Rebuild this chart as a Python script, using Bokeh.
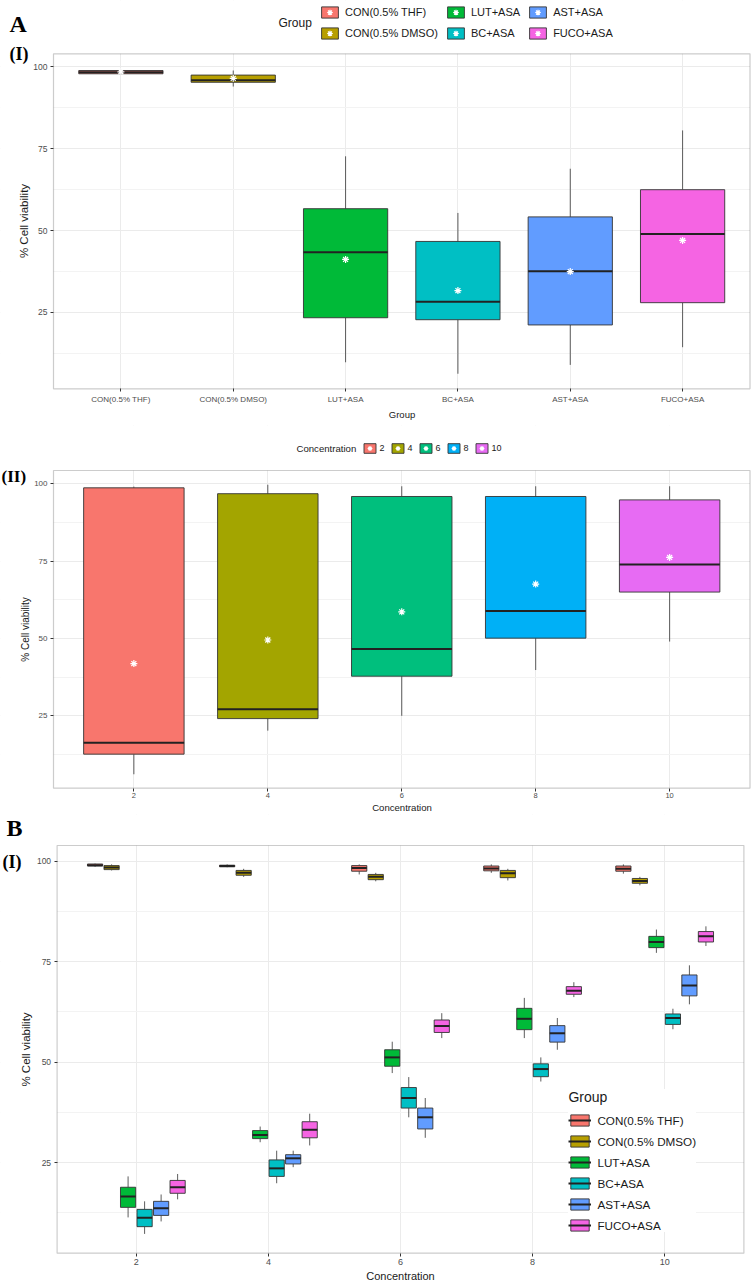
from bokeh.plotting import figure
from bokeh.layouts import column
from bokeh.models import (FixedTicker, Range1d, Legend, LegendItem, Label,
                          ColumnDataSource, BoxAnnotation)
from bokeh.embed import file_html
from bokeh.resources import INLINE

FONT = "Liberation Sans"
SERIF = "Liberation Serif"

# ---------------- Panel A(I): by group ----------------
groups = ["CON(0.5% THF)", "CON(0.5% DMSO)", "LUT+ASA", "BC+ASA", "AST+ASA", "FUCO+ASA"]
group_colors = ["#F8766D", "#B79F00", "#00BA38", "#00BFC4", "#619CFF", "#F564E3"]
a1_lower = [97.7, 94.0, 9.8, 6.3, 9.0, 14.4]
a1_q1 = [97.9, 95.3, 23.4, 22.8, 21.2, 28.0]
a1_med = [98.4, 95.9, 43.4, 28.3, 37.6, 49.0]
a1_q3 = [98.9, 97.5, 56.7, 46.7, 54.2, 62.5]
a1_upper = [99.1, 98.9, 72.7, 55.4, 68.9, 80.6]
a1_mean = [98.5, 96.5, 41.2, 31.7, 37.5, 47.0]

# ---------------- Panel A(II): by concentration ----------------
concentrations = [2, 4, 6, 8, 10]
conc_labels = ["2", "4", "6", "8", "10"]
conc_colors = ["#F8766D", "#A3A500", "#00BF7D", "#00B0F6", "#E76BF3"]
a2_lower = [6.1, 20.2, 25.0, 39.8, 49.0]
a2_q1 = [12.6, 24.1, 37.8, 50.1, 65.0]
a2_med = [16.3, 27.1, 46.6, 58.9, 73.9]
a2_q3 = [98.7, 96.8, 95.9, 95.9, 94.8]
a2_upper = [99.1, 99.7, 99.2, 99.2, 99.2]
a2_mean = [41.9, 49.5, 58.6, 67.6, 76.2]

# ---------------- Panel B(I): group x concentration ----------------
b_thf_lower = [98.6, 98.5, 96.7, 97.1, 96.9]
b_thf_q1 = [98.8, 98.6, 97.5, 97.6, 97.5]
b_thf_med = [99.0, 98.8, 98.3, 98.2, 98.1]
b_thf_q3 = [99.3, 99.0, 98.9, 98.8, 98.8]
b_thf_upper = [99.4, 99.2, 99.2, 99.2, 99.2]

b_dmso_lower = [97.7, 96.1, 95.0, 95.2, 94.0]
b_dmso_q1 = [97.9, 96.5, 95.4, 95.9, 94.5]
b_dmso_med = [98.4, 97.1, 96.1, 97.0, 95.1]
b_dmso_q3 = [98.9, 97.7, 96.7, 97.7, 95.7]
b_dmso_upper = [99.2, 98.1, 97.1, 98.1, 96.1]

b_lut_lower = [11.4, 30.1, 47.3, 56.0, 77.2]
b_lut_q1 = [13.9, 31.0, 49.0, 58.1, 78.5]
b_lut_med = [16.6, 31.9, 51.2, 60.8, 79.9]
b_lut_q3 = [18.9, 33.0, 53.1, 63.4, 81.3]
b_lut_upper = [21.6, 34.0, 55.1, 66.0, 83.0]

b_bc_lower = [7.3, 19.9, 36.3, 45.2, 58.2]
b_bc_q1 = [9.1, 21.6, 38.6, 46.4, 59.4]
b_bc_med = [11.3, 23.6, 41.1, 48.3, 61.0]
b_bc_q3 = [13.4, 25.7, 43.7, 49.6, 62.0]
b_bc_upper = [15.4, 28.0, 46.3, 51.2, 63.3]

b_ast_lower = [10.4, 23.9, 31.2, 53.1, 64.4]
b_ast_q1 = [11.9, 24.7, 33.4, 55.0, 66.5]
b_ast_med = [13.7, 26.1, 36.3, 57.2, 69.1]
b_ast_q3 = [15.4, 27.0, 38.6, 59.1, 71.7]
b_ast_upper = [17.1, 28.0, 41.1, 61.0, 74.1]

b_fuco_lower = [15.9, 29.3, 56.0, 66.2, 78.9]
b_fuco_q1 = [17.4, 31.2, 57.4, 66.9, 79.9]
b_fuco_med = [18.9, 33.2, 59.0, 67.8, 81.3]
b_fuco_q3 = [20.6, 35.2, 60.5, 68.8, 82.5]
b_fuco_upper = [22.2, 37.2, 62.2, 69.9, 83.8]

y_ticks = [25, 50, 75, 100]
y_minor = [12.5, 37.5, 62.5, 87.5]

W = 752
BOX_LINE = "#333333"


def make_fig(H, px_left, px_right, px_top, px_bottom, x0, x1, y0, y1, xlabel,
             xfs, yfs, xtfs, ytfs, xstand, xlstand, ylstand):
    """Figure whose frame is the whole canvas; the ggplot panel is the
    data box [x0,x1]x[y0,y1] placed at the given pixel edges."""
    kx = (x1 - x0) / (px_right - px_left)
    ky = (y1 - y0) / (px_bottom - px_top)
    xr = Range1d(x0 - px_left * kx, x1 + (W - px_right) * kx)
    yr = Range1d(y0 - (H - px_bottom) * ky, y1 + px_top * ky)
    p = figure(width=W, height=H, x_range=xr, y_range=yr, output_backend="svg",
               toolbar_location=None, min_border=0, title=None,
               x_axis_label=xlabel, y_axis_label="% Cell viability")
    p.outline_line_color = None
    p.background_fill_color = "white"
    p.border_fill_color = "white"
    p.xgrid.grid_line_color = "#EBEBEB"
    p.ygrid.grid_line_color = "#EBEBEB"
    p.ygrid.minor_grid_line_color = "#F3F3F3"
    # white masks hide grid lines outside the panel
    for kw in (dict(top=y0), dict(bottom=y1), dict(right=x0), dict(left=x1)):
        p.add_layout(BoxAnnotation(fill_color="white", fill_alpha=1, line_color=None,
                                   level="underlay", **kw))
    # panel border
    p.add_layout(BoxAnnotation(left=x0, right=x1, bottom=y0, top=y1, fill_alpha=0,
                               line_color="#555555", line_width=1.2, level="annotation"))
    p.xaxis.fixed_location = y0
    p.yaxis.fixed_location = x0
    p.xaxis.bounds = (x0, x1)
    p.yaxis.bounds = (y0, y1)
    for ax, fs, tfs in ((p.xaxis[0], xfs, xtfs), (p.yaxis[0], yfs, ytfs)):
        ax.axis_line_color = None
        ax.major_tick_line_color = "#333333"
        ax.major_tick_out = 3
        ax.major_tick_in = 0
        ax.minor_tick_line_color = None
        ax.major_label_text_color = "#4D4D4D"
        ax.major_label_text_font = FONT
        ax.major_label_text_font_size = fs
        ax.major_label_standoff = 2
        ax.axis_label_text_font = FONT
        ax.axis_label_text_font_style = "normal"
        ax.axis_label_text_color = "#1A1A1A"
        ax.axis_label_text_font_size = tfs
    p.xaxis.major_label_standoff = xstand
    p.xaxis.axis_label_standoff = xlstand
    p.yaxis.axis_label_standoff = ylstand
    p.yaxis.ticker = FixedTicker(ticks=y_ticks, minor_ticks=y_minor)
    return p


def add_text(p, text, x, y, size, serif=False):
    p.add_layout(Label(x=x, y=y, x_units="screen", y_units="screen", text=text,
                       text_font=SERIF if serif else FONT,
                       text_font_style="bold" if serif else "normal",
                       text_font_size=size, text_baseline="middle", text_align="left",
                       text_color="black" if serif else "#1A1A1A"))


def draw_boxes(p, src, width, with_mean):
    p.segment(x0="x", y0="q3", x1="x", y1="upper", source=src, line_color=BOX_LINE, line_width=0.8)
    p.segment(x0="x", y0="lower", x1="x", y1="q1", source=src, line_color=BOX_LINE, line_width=0.8)
    box = p.vbar(x="x", width=width, bottom="q1", top="q3", source=src, fill_color="color",
                 line_color=BOX_LINE, line_width=0.9)
    med = p.segment(x0="xl", y0="med", x1="xr", y1="med", source=src, line_color="#222222", line_width=2)
    star = None
    if with_mean:
        star = p.scatter(x="x", y="mean", source=src, marker="asterisk", size=7,
                         line_color="white", line_width=1.2)
    return box, med, star


# ======================= Figure A(I) =======================
H1 = 425
p1 = make_fig(H1, 53, 749.5, 53.3, 388.3, 0.4, 6.6, 1.7, 104.0, "Group",
              "8px", "8.5px", "9.5px", "11.5px", 3, 2, 0)
xs1 = list(range(1, len(groups) + 1))
w1 = 0.75
src1 = ColumnDataSource(dict(x=xs1, xl=[x - w1 / 2 for x in xs1], xr=[x + w1 / 2 for x in xs1],
                             lower=a1_lower, q1=a1_q1, med=a1_med, q3=a1_q3, upper=a1_upper,
                             mean=a1_mean, color=group_colors))
box1, med1, star1 = draw_boxes(p1, src1, w1, True)
p1.xaxis.ticker = FixedTicker(ticks=xs1, minor_ticks=[])
p1.xaxis.major_label_overrides = {x: g for x, g in zip(xs1, groups)}

leg1 = Legend(items=[LegendItem(label=g, renderers=[box1, star1], index=i) for i, g in enumerate(groups)],
              orientation="vertical", nrows=2, location=(319, H1 - 39.7),
              glyph_width=21, glyph_height=14, label_height=14, label_width=5, label_standoff=5,
              spacing=7, padding=0, margin=0, border_line_color=None, background_fill_alpha=0,
              label_text_font=FONT, label_text_font_size="11px", label_text_color="#1A1A1A")
p1.add_layout(leg1)
add_text(p1, "Group", 278, H1 - 22, "12px")
add_text(p1, "A", 9, H1 - 23.5, "24px", serif=True)
add_text(p1, "(I)", 9, H1 - 53.5, "18px", serif=True)

# ======================= Figure A(II) =======================
H2 = 389
p2 = make_fig(H2, 53, 749.5, 45, 362.7, 0.8, 11.2, 1.6, 104.3, "Concentration",
              "7.5px", "8px", "9.6px", "10px", 2, 0, 0)
w2 = 1.5
src2 = ColumnDataSource(dict(x=concentrations, xl=[x - w2 / 2 for x in concentrations],
                             xr=[x + w2 / 2 for x in concentrations],
                             lower=a2_lower, q1=a2_q1, med=a2_med, q3=a2_q3, upper=a2_upper,
                             mean=a2_mean, color=conc_colors))
box2, med2, star2 = draw_boxes(p2, src2, w2, True)
p2.xaxis.ticker = FixedTicker(ticks=concentrations, minor_ticks=[])
p2.xaxis.major_label_overrides = {c: l for c, l in zip(concentrations, conc_labels)}

leg2 = Legend(items=[LegendItem(label=l, renderers=[box2, star2], index=i) for i, l in enumerate(conc_labels)],
              orientation="horizontal", location=(361.5, H2 - 28.7),
              glyph_width=15, glyph_height=12, label_height=12, label_width=4, label_standoff=3,
              spacing=5, padding=0, margin=0, border_line_color=None, background_fill_alpha=0,
              label_text_font=FONT, label_text_font_size="9px", label_text_color="#1A1A1A")
p2.add_layout(leg2)
add_text(p2, "Concentration", 296, H2 - 22.7, "9.6px")
add_text(p2, "(II)", 1, H2 - 50.5, "17px", serif=True)

# ======================= Figure B(I) =======================
H3 = 469
p3 = make_fig(H3, 56.6, 743.4, 31, 438.7, 0.8, 11.2, 2.5, 103.9, "Concentration",
              "9px", "8.5px", "11px", "11.5px", 3, 1, 2)
b_stats = [
    (b_thf_lower, b_thf_q1, b_thf_med, b_thf_q3, b_thf_upper),
    (b_dmso_lower, b_dmso_q1, b_dmso_med, b_dmso_q3, b_dmso_upper),
    (b_lut_lower, b_lut_q1, b_lut_med, b_lut_q3, b_lut_upper),
    (b_bc_lower, b_bc_q1, b_bc_med, b_bc_q3, b_bc_upper),
    (b_ast_lower, b_ast_q1, b_ast_med, b_ast_q3, b_ast_upper),
    (b_fuco_lower, b_fuco_q1, b_fuco_med, b_fuco_q3, b_fuco_upper),
]
dodge = 0.25
w3 = 0.23
items3 = []
n = len(groups)
for i, (g, col, st) in enumerate(zip(groups, group_colors, b_stats)):
    off = (i - (n - 1) / 2) * dodge
    xs = [c + off for c in concentrations]
    src = ColumnDataSource(dict(x=xs, xl=[x - w3 / 2 for x in xs], xr=[x + w3 / 2 for x in xs],
                                lower=st[0], q1=st[1], med=st[2], q3=st[3], upper=st[4],
                                color=[col] * len(xs)))
    b, m, _ = draw_boxes(p3, src, w3, False)
    items3.append(LegendItem(label=g, renderers=[b, m]))
p3.xaxis.ticker = FixedTicker(ticks=concentrations, minor_ticks=[])
p3.xaxis.major_label_overrides = {c: l for c, l in zip(concentrations, conc_labels)}

leg3 = Legend(items=items3, orientation="vertical", location=(568.4, 51),
              title="Group", title_text_font=FONT, title_text_font_size="14px", title_text_font_style="normal",
              title_text_color="#1A1A1A", title_standoff=8,
              glyph_width=23, glyph_height=14, label_height=14, label_width=5, label_standoff=6,
              spacing=7, padding=14, margin=0, border_line_color=None,
              background_fill_color="white", background_fill_alpha=1,
              label_text_font=FONT, label_text_font_size="11.7px", label_text_color="#1A1A1A")
p3.add_layout(leg3)
add_text(p3, "B", 6, H3 - 13.5, "24px", serif=True)
add_text(p3, "(I)", 2, H3 - 47, "18px", serif=True)

layout = column(p1, p2, p3)
open("out.html", "w").write(file_html(layout, INLINE))
